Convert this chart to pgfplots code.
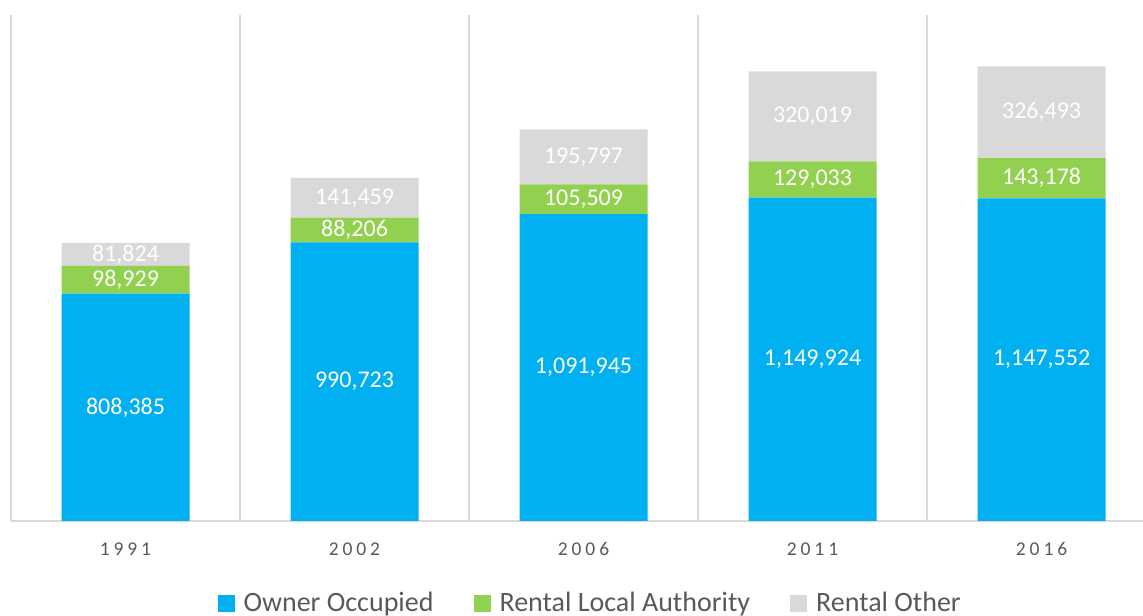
\documentclass[border=0pt]{standalone}
\usepackage{pgfplots}
\pgfplotsset{compat=1.18}
\usepackage{fontspec}
\setmainfont{Carlito}
\newfontfamily\spacedfont[LetterSpace=20]{Carlito}
\definecolor{cblue}{HTML}{00B0F0}
\definecolor{cgreen}{HTML}{92D050}
\definecolor{cgray}{HTML}{D9D9D9}
\definecolor{ctext}{HTML}{595959}
\pgfplotsset{
  sq legend/.style={legend image code/.code={\fill[##1] (0pt,-4.25pt) rectangle (8.5pt,4.25pt);}},
}
\pgfplotstableread{
x own lau oth
0 808385 98929 81824
1 990723 88206 141459
2 1091945 105509 195797
3 1149924 129033 320019
4 1147552 143178 326493
}\datatable
\begin{document}
\begin{tikzpicture}
\begin{axis}[
  scale only axis,
  width=566pt, height=253pt,
  ybar stacked,
  bar width=0.559,
  xmin=-0.5, xmax=4.443,
  ymin=0, ymax=1800000,
  enlargelimits=false,
  axis x line*=bottom,
  axis y line=none,
  x axis line style={cgray, line width=1pt},
  xtick={0,1,2,3,4},
  xticklabels={1991,2002,2006,2011,2016},
  minor xtick={-0.5,0.5,1.5,2.5,3.5},
  xminorgrids=true,
  minor grid style={cgray, line width=1pt},
  major tick length=0pt, minor tick length=0pt,
  ytick=\empty,
  xticklabel style={anchor=center, yshift=-14pt, font=\fontsize{9.75}{12}\spacedfont\color{ctext}},
  point meta=rawy,
  nodes near coords={\pgfmathprintnumber[fixed,precision=0,1000 sep={,},assume math mode=true]{\pgfplotspointmeta}},
  every node near coord/.append style={anchor=center, font=\fontsize{12}{14}\selectfont, text=white},
  legend style={at={(0.5125,-0.163)}, anchor=center, draw=none, fill=none, legend columns=-1,
    font=\fontsize{14}{16}\selectfont\color{ctext},
    /tikz/every even column/.append style={column sep=18pt},
    /tikz/every odd column/.append style={column sep=2.5pt}},
]
\addplot+[fill=cblue, draw=none, sq legend] table[x=x, y=own] {\datatable};
\addplot+[fill=cgreen, draw=none, sq legend] table[x=x, y=lau] {\datatable};
\addplot+[fill=cgray, draw=none, sq legend] table[x=x, y=oth] {\datatable};
\legend{Owner Occupied, Rental Local Authority, Rental Other}
\coordinate (bbl) at (rel axis cs:-0.00972,-0.1877);
\coordinate (btr) at (rel axis cs:1,1.0296);
\end{axis}
\pgfresetboundingbox
\useasboundingbox (bbl) rectangle (btr);
\end{tikzpicture}
\end{document}
